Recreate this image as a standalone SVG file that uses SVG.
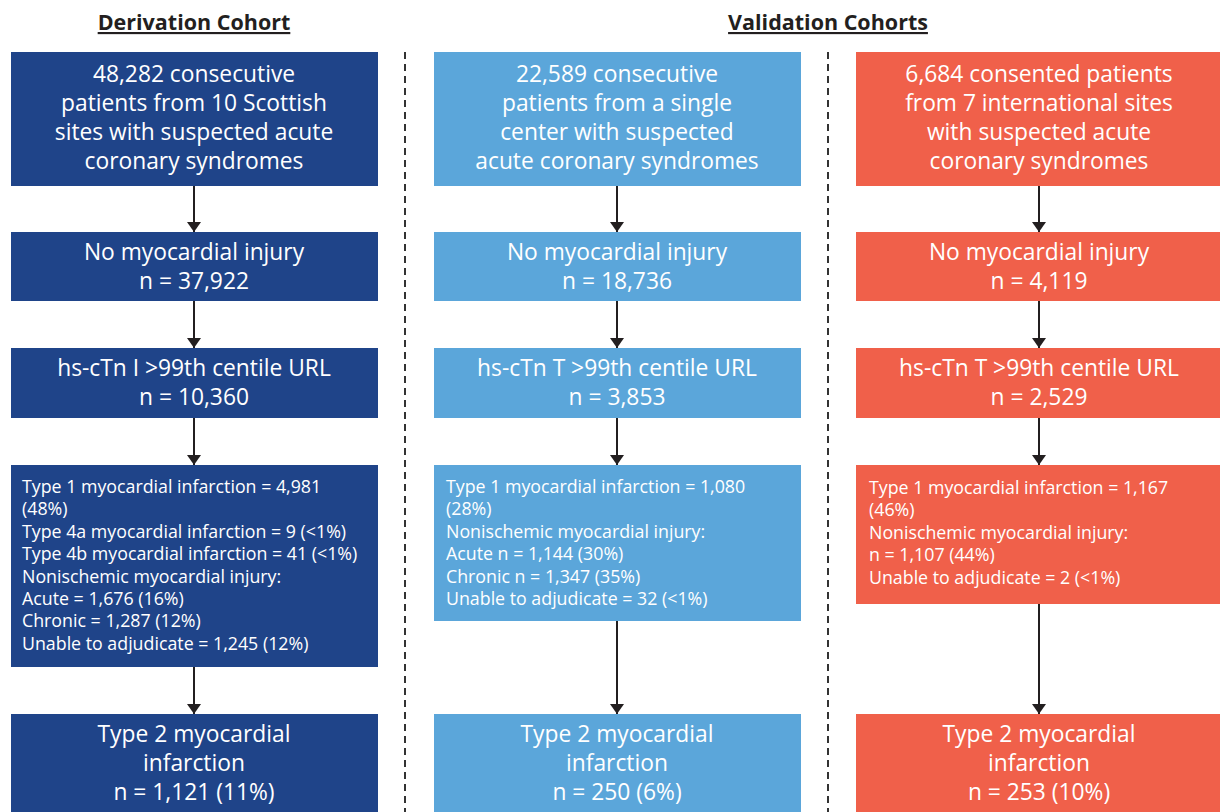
<svg xmlns="http://www.w3.org/2000/svg" width="1220" height="812" viewBox="0 0 1220 812">
<style>
.h{font-family:"Open Sans","Noto Sans",sans-serif;font-weight:bold;font-size:21.5px;fill:#231f20;text-anchor:middle;text-decoration:underline}
.t{font-family:"Open Sans","Noto Sans",sans-serif;font-weight:500;font-size:22.8px;fill:#fff;text-anchor:middle}
.s{font-family:"Open Sans","Noto Sans",sans-serif;font-weight:500;font-size:17.8px;fill:#fff}
.d{fill:#1f4489}.l{fill:#5ba6da}.c{fill:#f0604a}
.a{stroke:#231f20;stroke-width:2;fill:none;marker-end:url(#ah)}
.sep{stroke:#333;stroke-width:2;stroke-dasharray:7,5}
</style>
<defs>
<marker id="ah" viewBox="0 0 10 14" refX="10" refY="7" markerWidth="10" markerHeight="14" markerUnits="userSpaceOnUse" orient="auto">
<path d="M0,0 L10,7 L0,14 z" fill="#231f20"/>
</marker>
</defs>
<rect width="1220" height="812" fill="#fff"/>
<text class="h" x="194" y="30">Derivation Cohort</text>
<text class="h" x="828" y="30">Validation Cohorts</text>
<g id="separators">
<line class="sep" x1="405" y1="52" x2="405" y2="812"/>
<line class="sep" x1="828" y1="52" x2="828" y2="812"/>
</g>
<g id="connectors">
<line class="a" x1="194" y1="186" x2="194" y2="232"/>
<line class="a" x1="194" y1="301" x2="194" y2="348"/>
<line class="a" x1="194" y1="418" x2="194" y2="465"/>
<line class="a" x1="194" y1="667" x2="194" y2="714"/>
<line class="a" x1="617" y1="186" x2="617" y2="232"/>
<line class="a" x1="617" y1="301" x2="617" y2="348"/>
<line class="a" x1="617" y1="418" x2="617" y2="465"/>
<line class="a" x1="617" y1="621" x2="617" y2="714"/>
<line class="a" x1="1039" y1="186" x2="1039" y2="232"/>
<line class="a" x1="1039" y1="301" x2="1039" y2="348"/>
<line class="a" x1="1039" y1="418" x2="1039" y2="465"/>
<line class="a" x1="1039" y1="604" x2="1039" y2="714"/>
</g>
<g id="d1"><rect class="d" x="11" y="52" width="367" height="134"/>
<text class="t" x="194" y="82">48,282 consecutive</text>
<text class="t" x="194" y="111">patients from 10 Scottish</text>
<text class="t" x="194" y="140">sites with suspected acute</text>
<text class="t" x="194" y="169">coronary syndromes</text></g>
<g id="d2"><rect class="d" x="11" y="232" width="367" height="69"/>
<text class="t" x="194" y="260">No myocardial injury</text>
<text class="t" x="194" y="289">n = 37,922</text></g>
<g id="d3"><rect class="d" x="11" y="348" width="367" height="70"/>
<text class="t" x="194" y="376">hs-cTn I &gt;99th centile URL</text>
<text class="t" x="194" y="405">n = 10,360</text></g>
<g id="d4"><rect class="d" x="11" y="465" width="367" height="202"/>
<text class="s" x="22" y="493">Type 1 myocardial infarction = 4,981</text>
<text class="s" x="22" y="515">(48%)</text>
<text class="s" x="22" y="538">Type 4a myocardial infarction = 9 (&lt;1%)</text>
<text class="s" x="22" y="560">Type 4b myocardial infarction = 41 (&lt;1%)</text>
<text class="s" x="22" y="583">Nonischemic myocardial injury:</text>
<text class="s" x="22" y="605">Acute = 1,676 (16%)</text>
<text class="s" x="22" y="627">Chronic = 1,287 (12%)</text>
<text class="s" x="22" y="650">Unable to adjudicate = 1,245 (12%)</text></g>
<g id="d5"><rect class="d" x="11" y="714" width="367" height="98"/>
<text class="t" x="194" y="742">Type 2 myocardial</text>
<text class="t" x="194" y="771">infarction</text>
<text class="t" x="194" y="800">n = 1,121 (11%)</text></g>

<g id="v1"><rect class="l" x="434" y="52" width="367" height="134"/>
<text class="t" x="617" y="82">22,589 consecutive</text>
<text class="t" x="617" y="111">patients from a single</text>
<text class="t" x="617" y="140">center with suspected</text>
<text class="t" x="617" y="169">acute coronary syndromes</text></g>
<g id="v2"><rect class="l" x="434" y="232" width="367" height="69"/>
<text class="t" x="617" y="260">No myocardial injury</text>
<text class="t" x="617" y="289">n = 18,736</text></g>
<g id="v3"><rect class="l" x="434" y="348" width="367" height="70"/>
<text class="t" x="617" y="376">hs-cTn T &gt;99th centile URL</text>
<text class="t" x="617" y="405">n = 3,853</text></g>
<g id="v4"><rect class="l" x="434" y="465" width="367" height="156"/>
<text class="s" x="446" y="493">Type 1 myocardial infarction = 1,080</text>
<text class="s" x="446" y="515">(28%)</text>
<text class="s" x="446" y="538">Nonischemic myocardial injury:</text>
<text class="s" x="446" y="560">Acute n = 1,144 (30%)</text>
<text class="s" x="446" y="583">Chronic n = 1,347 (35%)</text>
<text class="s" x="446" y="605">Unable to adjudicate = 32 (&lt;1%)</text></g>
<g id="v5"><rect class="l" x="434" y="714" width="367" height="98"/>
<text class="t" x="617" y="742">Type 2 myocardial</text>
<text class="t" x="617" y="771">infarction</text>
<text class="t" x="617" y="800">n = 250 (6%)</text></g>

<g id="i1"><rect class="c" x="856" y="52" width="364" height="134"/>
<text class="t" x="1039" y="82">6,684 consented patients</text>
<text class="t" x="1039" y="111">from 7 international sites</text>
<text class="t" x="1039" y="140">with suspected acute</text>
<text class="t" x="1039" y="169">coronary syndromes</text></g>
<g id="i2"><rect class="c" x="856" y="232" width="364" height="69"/>
<text class="t" x="1039" y="260">No myocardial injury</text>
<text class="t" x="1039" y="289">n = 4,119</text></g>
<g id="i3"><rect class="c" x="856" y="348" width="364" height="70"/>
<text class="t" x="1039" y="376">hs-cTn T &gt;99th centile URL</text>
<text class="t" x="1039" y="405">n = 2,529</text></g>
<g id="i4"><rect class="c" x="856" y="465" width="364" height="139"/>
<text class="s" x="869" y="494">Type 1 myocardial infarction = 1,167</text>
<text class="s" x="869" y="516">(46%)</text>
<text class="s" x="869" y="539">Nonischemic myocardial injury:</text>
<text class="s" x="869" y="561">n = 1,107 (44%)</text>
<text class="s" x="869" y="584">Unable to adjudicate = 2 (&lt;1%)</text></g>
<g id="i5"><rect class="c" x="856" y="714" width="364" height="98"/>
<text class="t" x="1039" y="742">Type 2 myocardial</text>
<text class="t" x="1039" y="771">infarction</text>
<text class="t" x="1039" y="800">n = 253 (10%)</text></g>
</svg>
